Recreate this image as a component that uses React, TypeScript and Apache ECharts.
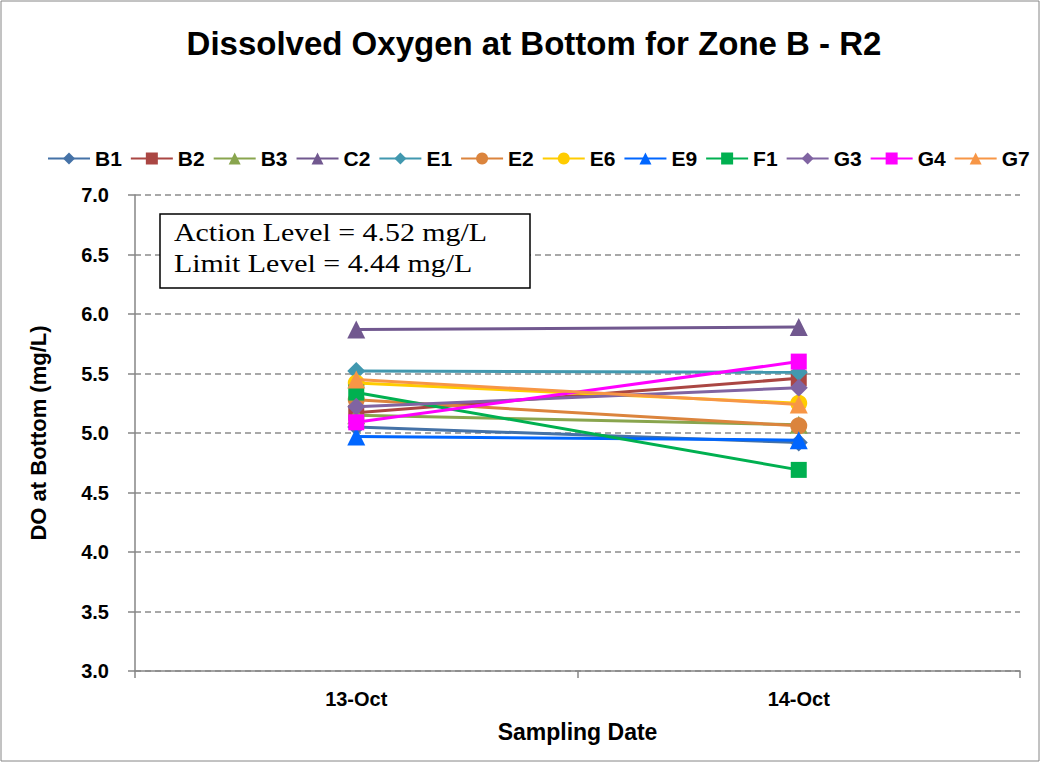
import React, { useEffect, useRef } from "react";
import * as echarts from "echarts";

const categories = ["13-Oct", "14-Oct"];
const seriesNames = ["B1", "B2", "B3", "C2", "E1", "E2", "E6", "E9", "F1", "G3", "G4", "G7"];
const B1 = [5.05, 4.92];
const B2 = [5.17, 5.46];
const B3 = [5.15, 5.07];
const C2 = [5.87, 5.89];
const E1 = [5.52, 5.51];
const E2 = [5.28, 5.06];
const E6 = [5.42, 5.25];
const E9 = [4.97, 4.94];
const F1 = [5.34, 4.69];
const G3 = [5.22, 5.38];
const G4 = [5.09, 5.6];
const G7 = [5.45, 5.24];
const seriesData = [B1, B2, B3, C2, E1, E2, E6, E9, F1, G3, G4, G7];
const colors = ["#4572A7", "#AA4643", "#89A54E", "#71588F", "#4198AF", "#DB843D", "#FFCC00", "#0066FF", "#00B050", "#8064A2", "#FF00FF", "#F79646"];
const symbols = ["diamond", "rect", "triangle", "triangle", "diamond", "circle", "circle", "triangle", "rect", "diamond", "rect", "triangle"];

export default function App() {
  const ref = useRef<HTMLDivElement>(null);
  useEffect(() => {
    const chart = echarts.init(ref.current!, null, { renderer: "svg" });
    const font = "Arial, 'Liberation Sans', sans-serif";
    chart.setOption({
      animation: false,
      backgroundColor: "#ffffff",
      title: {
        text: "Dissolved Oxygen at Bottom for Zone B - R2",
        left: 529,
        textAlign: "center",
        top: 22,
        textStyle: { fontFamily: font, fontSize: 33, fontWeight: "bold", color: "#000" },
      },
      legend: {
        data: seriesNames,
        top: 143,
        left: 42,
        width: 1000,
        itemWidth: 42,
        itemHeight: 15,
        itemGap: 8,
        textStyle: { fontFamily: font, fontSize: 21, fontWeight: "bold", color: "#000" },
      },
      grid: { left: 135, right: 21, top: 195, bottom: 92, containLabel: false },
      xAxis: {
        type: "category",
        data: categories,
        boundaryGap: true,
        name: "Sampling Date",
        nameLocation: "middle",
        nameGap: 49,
        nameTextStyle: { fontFamily: font, fontSize: 23, fontWeight: "bold", color: "#000" },
        axisLine: { lineStyle: { color: "#868686", width: 1.5 } },
        axisTick: { show: true, alignWithLabel: false, length: 7, lineStyle: { color: "#868686", width: 1.5 } },
        axisLabel: { fontFamily: font, fontSize: 20, fontWeight: "bold", color: "#000", margin: 18 },
        splitLine: { show: false },
      },
      yAxis: {
        type: "value",
        min: 3.0,
        max: 7.0,
        interval: 0.5,
        name: "DO at Bottom (mg/L)",
        nameLocation: "middle",
        nameGap: 86,
        nameRotate: 90,
        nameTextStyle: { fontFamily: font, fontSize: 22, fontWeight: "bold", color: "#000" },
        axisLine: { show: true, lineStyle: { color: "#868686", width: 1.5 } },
        axisTick: { show: true, length: 7, lineStyle: { color: "#868686", width: 1.5 } },
        axisLabel: {
          fontFamily: font,
          fontSize: 20,
          fontWeight: "bold",
          color: "#000",
          margin: 26,
          formatter: (v: number) => v.toFixed(1),
        },
        splitLine: { show: true, lineStyle: { color: "#8c8c8c", type: [6, 4], width: 1.5 } },
      },
      series: seriesNames.map((name, i) => ({
        name,
        type: "line",
        data: seriesData[i],
        color: colors[i],
        symbol: symbols[i],
        symbolSize: symbols[i] === "rect" ? 16 : symbols[i] === "circle" ? 17 : 18,
        lineStyle: { width: 3, color: colors[i] },
        itemStyle: { color: colors[i] },
        z: 2 + i,
      })),
      graphic: [
        {
          type: "rect",
          shape: { x: 1, y: 1, width: 1038, height: 760 },
          style: { fill: "none", stroke: "#868686", lineWidth: 1 },
          silent: true,
        },
        {
          type: "rect",
          shape: { x: 160, y: 214, width: 370, height: 74 },
          style: { fill: "#fff", stroke: "#000", lineWidth: 1.5 },
          z: 100,
        },
        {
          type: "text",
          x: 174,
          y: 217,
          scaleX: 1.15,
          style: {
            text: "Action Level = 4.52 mg/L\nLimit Level = 4.44 mg/L",
            fontFamily: "'Liberation Serif', 'DejaVu Serif', serif",
            fontSize: 26,
            lineHeight: 31,
            fill: "#000",
          },
          z: 101,
        },
      ],
    });
    return () => chart.dispose();
  }, []);
  return (
    <div
      ref={ref}
      style={{ position: "absolute", left: 0, top: 0, width: 1041, height: 763 }}
    />
  );
}
